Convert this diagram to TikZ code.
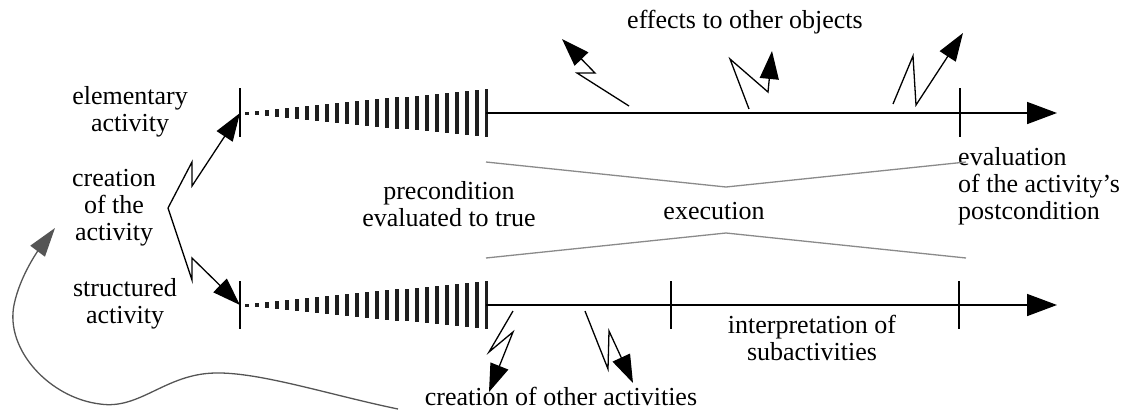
\documentclass[tikz,border=0pt]{standalone}
\usepackage{fontspec}
\setmainfont{Liberation Serif}
\usetikzlibrary{arrows.meta}
\definecolor{barink}{HTML}{1E1E1E}
\definecolor{guidegray}{HTML}{8A8A8A}
\definecolor{loopgray}{HTML}{555555}
\begin{document}
\begin{tikzpicture}[x=1pt,y=-1pt,
  lbl/.style={inner sep=0pt, align=center, font=\fontsize{26}{27}\selectfont},
  axis/.style={line width=1.6pt, -{Triangle[length=30pt,width=22pt]}},
  tickmark/.style={line width=1.4pt},
  bolt/.style={line width=1.3pt, line join=miter, -{Triangle[length=28pt,width=19pt]}},
  guide/.style={draw=guidegray, line width=1.3pt},
  loop/.style={draw=loopgray, line width=1.3pt, -{Triangle[length=29pt,width=18pt]}}]
\useasboundingbox (0,0) rectangle (1130,410);

% labels
\node[lbl] (elem)   at (130,112) {elementary\\activity};
\node[lbl] (create) at (114,208) {creation\\of the\\activity};
\node[lbl] (struct) at (125,304) {structured\\activity};
\node[lbl] (pre)    at (449,204) {precondition\\evaluated to true};
\node[lbl] (exec)   at (714,211) {execution};
\node[lbl, align=left, anchor=west] (post) at (958,186) {evaluation\\of the activity's\\postcondition};
\node[lbl] (effects) at (745,22) {effects to other objects};
\node[lbl] (interp)  at (812,338) {interpretation of\\subactivities};
\node[lbl] (others)  at (561,396) {creation of other activities};

% start-up ramps: bars growing towards the start of execution
\foreach \y in {113,305} {
  \foreach \i in {0,...,23} {
    \pgfmathsetmacro\h{3+43*\i/23}
    \fill[barink] ({247+10*\i-2.4},{\y-\h/2}) rectangle ++(4.8,\h);
  }
  \draw[line width=3pt, barink] (486,{\y-24}) -- (486,{\y+24});
}

% time lines
\coordinate (uStart) at (486,113);
\coordinate (uEnd)   at (1057,113);
\coordinate (lStart) at (486,305);
\coordinate (lEnd)   at (1057,305);
\draw[axis] (uStart) -- (uEnd);
\draw[axis] (lStart) -- (lEnd);

% ticks
\coordinate (uT0) at (240,113);
\coordinate (lT0) at (240,305);
\draw[tickmark] (240,88) -- (240,137);
\draw[tickmark] (960,88) -- (960,137);
\draw[tickmark] (240,281) -- (240,329);
\draw[tickmark] (671,281) -- (671,329);
\draw[tickmark] (959,281) -- (959,329);

% creation of the activity forks into both kinds
\coordinate (fork) at (168,208);
\draw[bolt] (fork) -- (192,162) -- (192,186) -- (uT0);
\draw[bolt] (fork) -- (192,280) -- (192,258) -- (lT0);

% effects to other objects
\draw[bolt] (629,106) -- (577,73) -- (595,73) -- (562,39);
\draw[bolt] (749,109) -- (730,59) -- (768,92) -- (772,51);
\draw[bolt] (893,104) -- (913,56) -- (916,105) -- (963,33);

% creation of other activities
\draw[bolt] (513,311) -- (489,352) -- (513,332) -- (489,392);
\draw[bolt] (585,311) -- (608,369) -- (609,331) -- (633,383);

% execution brackets
\draw[guide] (486,162) -- (726,187) -- (966,162);
\draw[guide] (486,258) -- (726,233) -- (966,258);

% feedback loop
\coordinate (loopStart) at (398,409);
\coordinate (loopEnd) at (55,228);
\draw[loop] (loopStart) .. controls (330,395) and (260,372) .. (215,373)
  .. controls (165,374) and (140,410) .. (100,404)
  .. controls (50,398) and (5,350) .. (14,305)
  .. controls (20,275) and (40,248) .. (loopEnd);
\end{tikzpicture}
\end{document}
